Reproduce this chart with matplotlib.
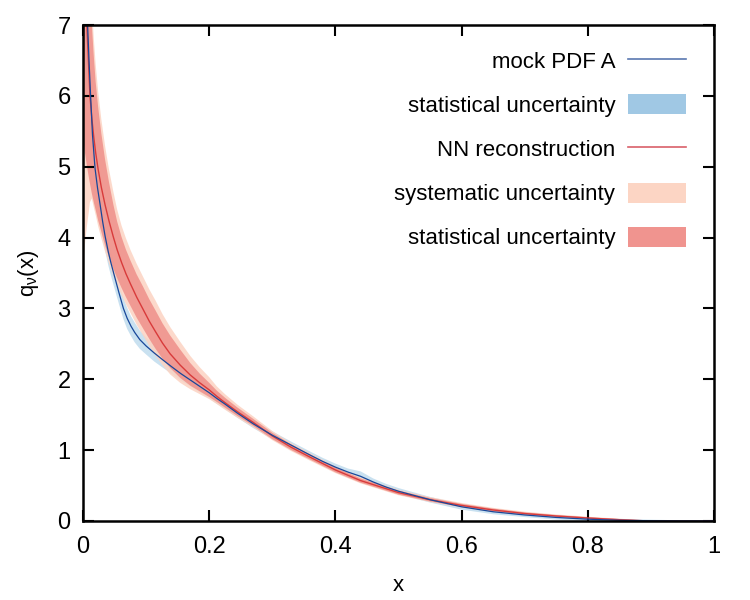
import numpy as np
import matplotlib
matplotlib.use("Agg")
import matplotlib.pyplot as plt
from matplotlib.patches import Patch
from matplotlib.lines import Line2D

plt.rcParams['font.family'] = ['Liberation Sans', 'DejaVu Sans']
plt.rcParams['mathtext.fontset'] = 'custom'
plt.rcParams['mathtext.rm'] = 'Liberation Sans'
plt.rcParams['mathtext.it'] = 'Liberation Sans'

# NN reconstruction (red): central value and band offsets (below / above)
x_nn = [0.0, 0.003, 0.006, 0.009, 0.011, 0.014, 0.017, 0.02, 0.024, 0.029,
        0.035, 0.041, 0.048, 0.054, 0.061, 0.068, 0.075, 0.085, 0.095, 0.105,
        0.115, 0.126, 0.138, 0.154, 0.17, 0.185, 0.2, 0.212, 0.225, 0.245,
        0.27, 0.3, 0.33, 0.36, 0.4, 0.44, 0.5, 0.55, 0.6, 0.65,
        0.7, 0.75, 0.8, 0.85, 0.89, 0.95, 1.0]
nn = [8.6, 7.7, 7.0, 6.4, 6.0, 5.68, 5.42, 5.2, 4.96, 4.71,
      4.46, 4.24, 4.01, 3.83, 3.65, 3.49, 3.35, 3.16, 2.99, 2.82,
      2.67, 2.51, 2.36, 2.2, 2.06, 1.95, 1.85, 1.76, 1.67, 1.54,
      1.39, 1.2, 1.04, 0.9, 0.72, 0.57, 0.4, 0.3, 0.22, 0.155,
      0.105, 0.07, 0.042, 0.018, 0.003, 0.0, 0.0]
stat_dn = [3.18, 2.5, 1.98, 1.54, 1.24, 1.06, 0.92, 0.81, 0.72, 0.63,
           0.57, 0.51, 0.45, 0.4, 0.36, 0.33, 0.31, 0.29, 0.27, 0.25,
           0.24, 0.22, 0.2, 0.18, 0.15, 0.12, 0.1, 0.08, 0.07, 0.06,
           0.05, 0.045, 0.04, 0.035, 0.033, 0.03, 0.028, 0.025, 0.022, 0.02,
           0.016, 0.014, 0.012, 0.01, 0.003, 0.0, 0.0]
stat_up = [1.5, 1.5, 1.5, 1.45, 1.4, 1.32, 1.15, 1.0, 0.88, 0.76,
           0.64, 0.55, 0.46, 0.4, 0.36, 0.34, 0.33, 0.32, 0.32, 0.31,
           0.3, 0.28, 0.26, 0.22, 0.17, 0.13, 0.1, 0.08, 0.07, 0.06,
           0.05, 0.045, 0.04, 0.035, 0.033, 0.03, 0.028, 0.025, 0.022, 0.02,
           0.016, 0.014, 0.012, 0.01, 0.003, 0.0, 0.0]
sys_dn = [5.0, 3.8, 2.85, 2.05, 1.5, 1.13, 0.99, 0.88, 0.8, 0.72,
          0.66, 0.6, 0.55, 0.5, 0.46, 0.43, 0.41, 0.39, 0.37, 0.35,
          0.34, 0.31, 0.29, 0.25, 0.2, 0.16, 0.13, 0.11, 0.1, 0.085,
          0.07, 0.06, 0.055, 0.05, 0.045, 0.04, 0.037, 0.033, 0.03, 0.027,
          0.023, 0.02, 0.017, 0.013, 0.003, 0.0, 0.0]
sys_up = [1.8, 1.8, 1.8, 1.75, 1.7, 1.6, 1.4, 1.25, 1.1, 0.96,
          0.83, 0.73, 0.64, 0.57, 0.52, 0.5, 0.48, 0.47, 0.46, 0.45,
          0.44, 0.41, 0.38, 0.33, 0.27, 0.22, 0.18, 0.14, 0.12, 0.1,
          0.085, 0.07, 0.06, 0.055, 0.05, 0.045, 0.04, 0.037, 0.034, 0.03,
          0.026, 0.022, 0.018, 0.014, 0.006, 0.0, 0.0]

# mock PDF A (blue): central value and half width of its band
x_a = [0.0, 0.004, 0.007, 0.0095, 0.012, 0.015, 0.019, 0.023, 0.027, 0.031,
       0.035, 0.04, 0.044, 0.05, 0.057, 0.064, 0.07, 0.076, 0.082, 0.09,
       0.1, 0.113, 0.127, 0.14, 0.155, 0.17, 0.185, 0.2, 0.212, 0.225,
       0.245, 0.27, 0.3, 0.33, 0.36, 0.38, 0.4, 0.42, 0.44, 0.46,
       0.48, 0.5, 0.55, 0.6, 0.65, 0.7, 0.75, 0.8, 0.85, 0.9,
       0.95, 1.0]
pdf_a = [8.6, 7.7, 7.05, 6.5, 6.0, 5.45, 4.98, 4.7, 4.47, 4.23,
         4.02, 3.8, 3.65, 3.45, 3.22, 3.0, 2.86, 2.75, 2.66, 2.56,
         2.47, 2.37, 2.27, 2.18, 2.08, 1.99, 1.9, 1.81, 1.73, 1.65,
         1.52, 1.37, 1.21, 1.07, 0.93, 0.84, 0.76, 0.69, 0.63, 0.55,
         0.48, 0.42, 0.3, 0.2, 0.13, 0.085, 0.05, 0.025, 0.01, 0.003,
         0.0, 0.0]
pdf_a_err = [0.35, 0.33, 0.3, 0.3, 0.3, 0.28, 0.26, 0.24, 0.22, 0.21,
             0.2, 0.19, 0.18, 0.17, 0.16, 0.15, 0.15, 0.14, 0.14, 0.13,
             0.12, 0.12, 0.11, 0.1, 0.1, 0.09, 0.085, 0.08, 0.075, 0.07,
             0.065, 0.06, 0.055, 0.05, 0.05, 0.05, 0.05, 0.05, 0.07, 0.05,
             0.045, 0.045, 0.04, 0.04, 0.035, 0.03, 0.03, 0.025, 0.02, 0.015,
             0.01, 0.0]

nn = np.array(nn)
pdf_a = np.array(pdf_a)
pdf_a_err = np.array(pdf_a_err)

fig = plt.figure(figsize=(7.5, 6), dpi=100)
ax = fig.add_axes([0.1107, 0.1317, 0.8413, 0.8266])

ax.fill_between(x_a, pdf_a - pdf_a_err, pdf_a + pdf_a_err, color='#a6cde6', alpha=0.6, lw=0)
ax.fill_between(x_nn, nn - np.array(sys_dn), nn + np.array(sys_up), color='#fcd3c2', alpha=0.85, lw=0)
ax.fill_between(x_nn, nn - np.array(stat_dn), nn + np.array(stat_up), color='#ef8f89', alpha=0.85, lw=0)
ax.plot(x_nn, nn, color='#d83b3b', lw=1.0)
ax.plot(x_a, pdf_a, color='#17479a', lw=0.9)

ax.set_xlim(0, 1)
ax.set_ylim(0, 7)
ax.set_xticks([0, 0.2, 0.4, 0.6, 0.8, 1])
ax.set_xticklabels(['0', '0.2', '0.4', '0.6', '0.8', '1'])
ax.set_yticks(range(8))
ax.tick_params(direction='in', top=True, right=True, length=8, width=1.5,
               labelsize=17)
ax.tick_params(axis='x', pad=11)
ax.tick_params(axis='y', pad=9)
for s in ax.spines.values():
    s.set_linewidth(1.8)

ax.set_xlabel('x', fontsize=16, labelpad=12)
ax.set_ylabel(r'q$_{\nu}$(x)', fontsize=16, labelpad=12)

handles = [
    Line2D([], [], color='#5a78b0', lw=1.2),
    Patch(facecolor='#a0c8e4', edgecolor='none'),
    Line2D([], [], color='#d9606a', lw=1.2),
    Patch(facecolor='#fcd5c4', edgecolor='none'),
    Patch(facecolor='#f0948f', edgecolor='none'),
]
labels = ['mock PDF A', 'statistical uncertainty', 'NN reconstruction',
          'systematic uncertainty', 'statistical uncertainty']
ax.legend(handles, labels, loc='upper right', bbox_to_anchor=(0.956, 0.949),
          frameon=False, markerfirst=False, fontsize=16, handlelength=2.6,
          handleheight=1.0, labelspacing=0.97, handletextpad=0.6,
          borderpad=0, borderaxespad=0)

fig.savefig('out.png', dpi=100)
